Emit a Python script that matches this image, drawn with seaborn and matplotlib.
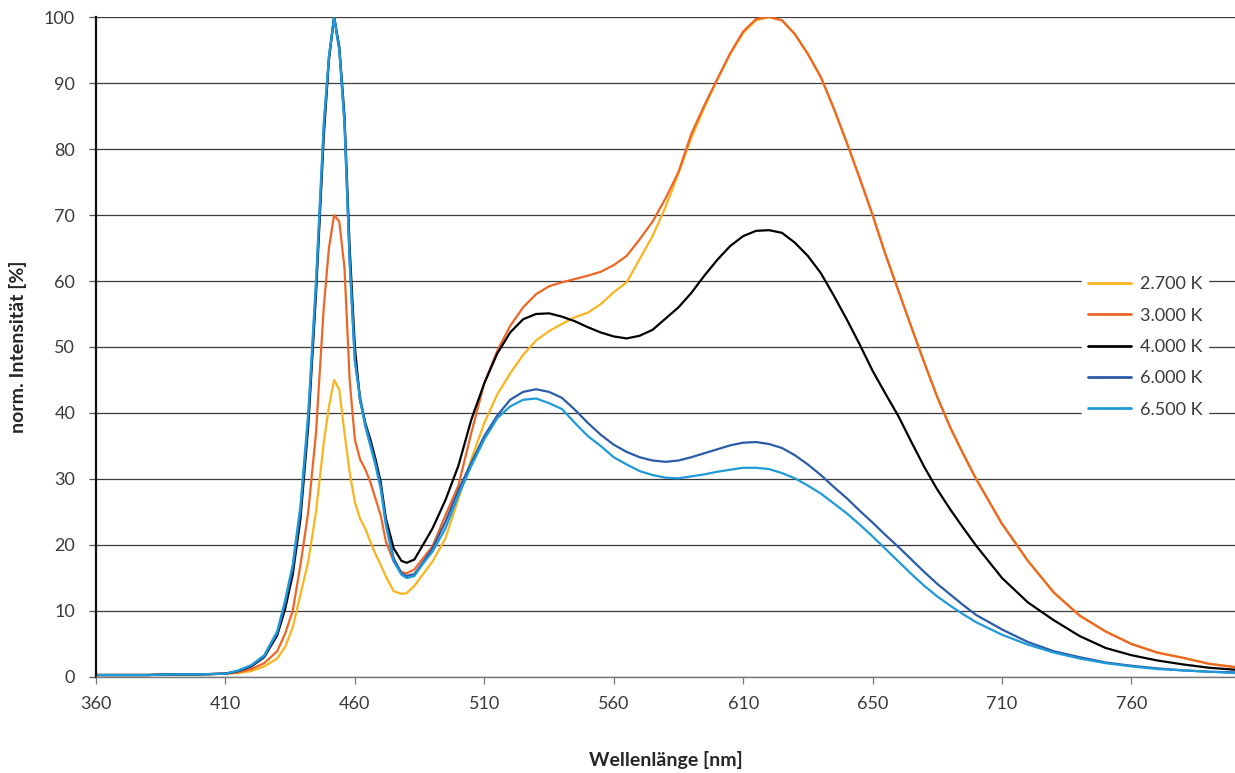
import matplotlib
matplotlib.use("Agg")
from matplotlib import pyplot as plt
import pandas as pd
import seaborn as sns

# wavelengths (nm)
wavelength = [360, 370, 380, 390, 400, 410, 415, 420, 425, 430,
              433, 436, 439, 442, 445, 448, 450, 452, 454, 456,
              458, 460, 462, 464, 466, 468, 470, 472, 475, 478,
              480, 483, 486, 490, 495, 500, 505, 510, 515, 520,
              525, 530, 535, 540, 545, 550, 555, 560, 565, 570,
              575, 580, 585, 590, 595, 600, 605, 610, 615, 620,
              625, 630, 635, 640, 645, 650, 655, 660, 665, 670,
              675, 680, 685, 690, 695, 700, 710, 720, 730, 740,
              750, 760, 770, 780, 790, 800]

k2700 = [0.3, 0.3, 0.3, 0.4, 0.4, 0.5, 0.6, 0.9, 1.6, 2.8,
         4.5, 7.5, 12.5, 17.5, 25, 35.5, 41, 45, 43.5, 37,
         31, 26.5, 24, 22.5, 20.5, 18.6, 17, 15.2, 13, 12.6,
         12.7, 13.8, 15.4, 17.5, 21, 27, 33, 38.5, 42.8, 46,
         48.8, 51, 52.4, 53.5, 54.5, 55.2, 56.5, 58.3, 59.8, 63.3,
         66.8, 71.2, 76.3, 81.7, 86.3, 90.5, 94.4, 97.6, 99.5, 100,
         99.5, 97.4, 94.4, 90.9, 86.1, 81, 75.6, 70, 64, 58.5,
         53, 47.6, 42.4, 37.8, 33.8, 30, 23.2, 17.6, 12.8, 9.3,
         6.9, 5.0, 3.7, 2.9, 2.0, 1.5]

k3000 = [0.3, 0.3, 0.3, 0.4, 0.4, 0.5, 0.7, 1.2, 2.1, 3.9,
         6.5, 10, 17, 25, 37, 56, 65, 70, 69, 62,
         45, 36, 33, 31.5, 29.5, 27, 24.5, 20.5, 17.5, 15.9,
         15.7, 16.3, 17.8, 19.8, 24.5, 29, 37, 44.5, 49.4, 53.2,
         56, 58, 59.2, 59.8, 60.3, 60.8, 61.4, 62.4, 63.8, 66.3,
         69, 72.5, 76.5, 82.3, 86.6, 90.6, 94.5, 97.8, 99.7, 100,
         99.5, 97.4, 94.4, 90.9, 86.2, 81, 75.6, 70, 64, 58.5,
         53, 47.6, 42.4, 37.8, 33.8, 30, 23.2, 17.6, 12.8, 9.3,
         6.9, 5.0, 3.7, 2.9, 2.0, 1.5]

k4000 = [0.3, 0.3, 0.3, 0.4, 0.4, 0.5, 0.9, 1.6, 3.0, 6.3,
         10.2, 15.5, 24, 38, 58, 82, 93.5, 100, 95.5, 85,
         65, 50, 42, 38.5, 36, 33, 29.5, 24, 19.5, 17.6,
         17.3, 17.8, 19.8, 22.5, 26.8, 32, 39, 44.5, 49, 52.2,
         54.2, 55, 55.1, 54.6, 53.9, 53, 52.2, 51.6, 51.3, 51.7,
         52.6, 54.3, 56, 58.2, 60.8, 63.2, 65.3, 66.8, 67.6, 67.7,
         67.3, 65.8, 63.8, 61.2, 57.8, 54.2, 50.4, 46.4, 42.9, 39.5,
         35.6, 31.8, 28.4, 25.4, 22.6, 19.9, 15, 11.3, 8.6, 6.2,
         4.4, 3.3, 2.5, 1.9, 1.4, 1.1]

k6000 = [0.3, 0.3, 0.3, 0.4, 0.4, 0.5, 0.9, 1.7, 3.1, 6.6,
         11, 16.5, 25, 39, 59, 83, 94, 100, 95, 84,
         63, 48, 42.5, 38.5, 35.5, 32.5, 29, 23.5, 18, 15.7,
         15.3, 15.6, 17.2, 19.5, 23.5, 28.3, 32.5, 36.5, 39.6, 42,
         43.2, 43.6, 43.2, 42.3, 40.5, 38.5, 36.7, 35.2, 34.1, 33.3,
         32.8, 32.6, 32.8, 33.3, 33.9, 34.5, 35.1, 35.5, 35.6, 35.3,
         34.7, 33.6, 32.2, 30.6, 28.8, 27.1, 25.2, 23.4, 21.5, 19.7,
         17.8, 15.9, 14.1, 12.5, 10.9, 9.4, 7.2, 5.3, 3.9, 3.0,
         2.2, 1.7, 1.3, 1.0, 0.8, 0.7]

k6500 = [0.3, 0.3, 0.3, 0.4, 0.4, 0.5, 1.0, 1.8, 3.3, 6.9,
         11.5, 17, 26, 40, 60, 84, 94, 100, 95, 84,
         63, 48, 42, 38, 35, 32, 28.5, 23, 17.5, 15.5,
         15, 15.3, 17, 19, 22.5, 27.5, 32, 36, 39.2, 41,
         42, 42.2, 41.5, 40.6, 38.5, 36.5, 35, 33.3, 32.2, 31.2,
         30.6, 30.2, 30.1, 30.4, 30.7, 31.1, 31.4, 31.7, 31.7, 31.5,
         30.9, 30.1, 29, 27.8, 26.3, 24.8, 23.1, 21.3, 19.4, 17.5,
         15.6, 13.8, 12.2, 10.8, 9.5, 8.3, 6.4, 4.9, 3.7, 2.8,
         2.1, 1.6, 1.2, 1.0, 0.8, 0.6]

labels = ['2.700 K', '3.000 K', '4.000 K', '6.000 K', '6.500 K']
colors = ['#FBB41E', '#EE6625', '#000000', '#2C5CA8', '#1E9AD8']

x_ticks = [360, 410, 460, 510, 560, 610, 660, 710, 760]
x_ticklabels = ['360', '410', '460', '510', '560', '610', '650', '710', '760']

frames = []
for lab, vals in zip(labels, [k2700, k3000, k4000, k6000, k6500]):
    frames.append(pd.DataFrame({'nm': wavelength, 'val': vals, 'cct': lab}))
df = pd.concat(frames, ignore_index=True)

sns.set_style('white')
plt.rcParams['font.family'] = ['Lato', 'DejaVu Sans']

fig = plt.figure(figsize=(12.35, 7.73), dpi=100)
ax = fig.add_axes([0.0777, 0.1242, 0.9223, 0.8538])

sns.lineplot(data=df, x='nm', y='val', hue='cct', palette=colors,
             hue_order=labels, sort=False, linewidth=1.6, ax=ax)

ax.set_xlim(360, 800)
ax.set_ylim(0, 100)
ax.set_yticks(range(0, 101, 10))
ax.set_xticks(x_ticks)
ax.set_xticklabels(x_ticklabels)

ax.yaxis.grid(True, color='#3a3a3a', linewidth=0.9)
ax.xaxis.grid(False)
ax.set_axisbelow(True)

for s in ['top', 'right']:
    ax.spines[s].set_visible(False)
ax.spines['left'].set_color('#111111')
ax.spines['left'].set_linewidth(1.6)
ax.spines['bottom'].set_color('#777777')
ax.spines['bottom'].set_linewidth(1.0)

ax.tick_params(axis='y', direction='out', length=5, width=0.9, color='#555555',
               pad=10, labelsize=13, labelcolor='#3a3a3a', left=True)
ax.tick_params(axis='x', direction='out', length=5, width=0.9, color='#777777',
               pad=9, labelsize=13, labelcolor='#3a3a3a', bottom=True)

ax.set_xlabel('Wellenlänge [nm]', fontsize=14, fontweight='bold', labelpad=28)
ax.set_ylabel('')
fig.text(18 / 1235, 1 - 347 / 773, 'norm. Intensität [%]', rotation=90,
         ha='center', va='center', fontsize=14, fontweight='bold')

leg = ax.legend(loc='center left', bbox_to_anchor=(0.866, 0.5), frameon=True,
                fontsize=13, handlelength=2.4, handletextpad=0.5,
                labelspacing=0.85, borderaxespad=0, borderpad=0.3)
leg.get_frame().set_facecolor('white')
leg.get_frame().set_edgecolor('white')
leg.get_frame().set_alpha(1)
for t in leg.get_texts():
    t.set_color('#3a3a3a')
for h in leg.get_lines():
    h.set_linewidth(2)

fig.savefig('out.png', dpi=100)
